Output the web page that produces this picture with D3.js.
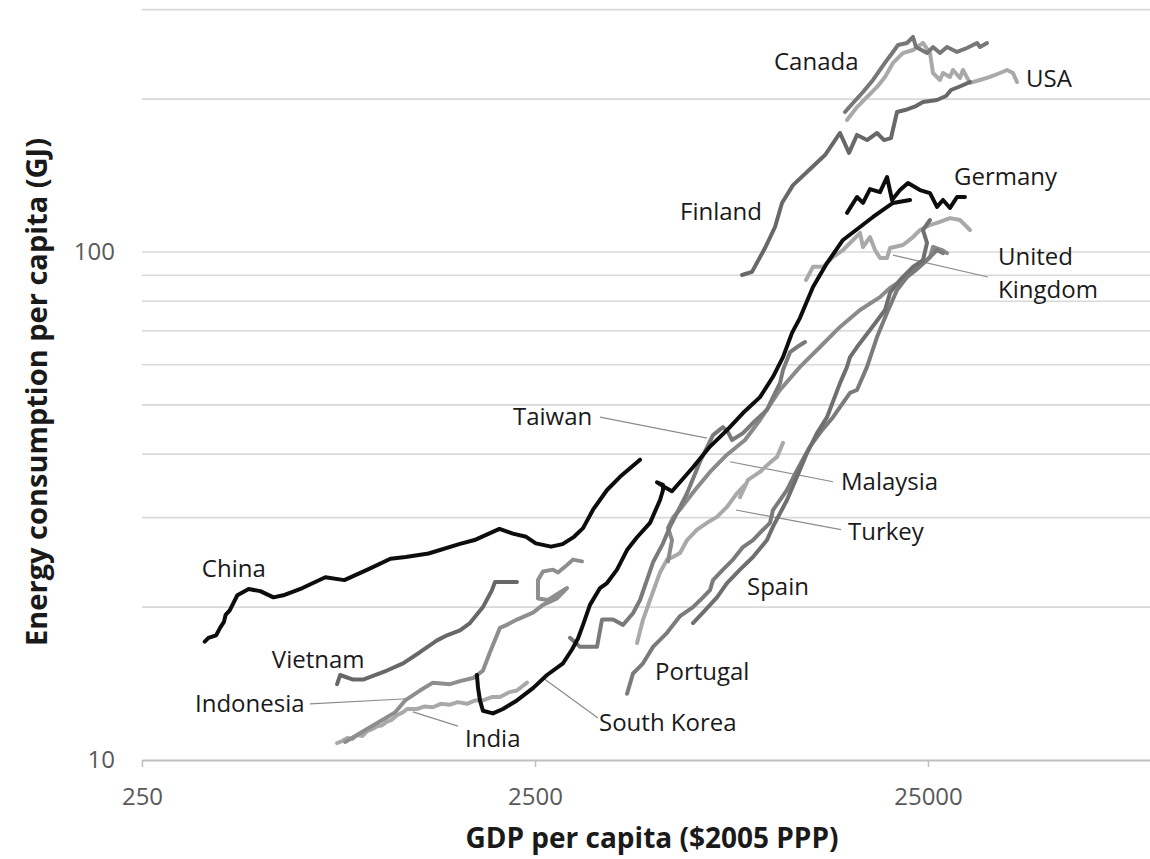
<!DOCTYPE html>
<html><head><meta charset="utf-8">
<script src="https://cdn.jsdelivr.net/npm/d3@7"></script>
<style>
body{margin:0;background:#fff;}
svg{display:block;}
</style></head><body>
<svg id="chart" width="1150" height="859"></svg>
<script>
// ---------- data ----------
const xTickValues = [250, 2500, 25000];
const yTickValues = [10, 100];
const yGridValues = [20, 30, 40, 50, 60, 70, 80, 90, 100, 200, 300];

const china = [[361,17.1],[369,17.4],[386,17.6],[395,18.2],[404,18.7],[408,19.3],[418,19.7],[437,21.1],[467,21.7],[500,21.5],[540,20.9],[572,21.1],[640,21.8],[732,22.9],[818,22.6],[937,23.7],[1072,24.9],[1172,25.1],[1340,25.5],[1603,26.6],[1754,27.1],[2030,28.5],[2195,27.9],[2374,27.5],[2512,26.7],[2747,26.3],[2938,26.6],[3142,27.5],[3313,28.6],[3512,31.1],[3813,34.0],[4114,36.1],[4626,39.0]];
const vietnam = [[784,14.1],[798,14.7],[861,14.4],[913,14.4],[1050,15.0],[1154,15.5],[1274,16.3],[1408,17.2],[1493,17.6],[1611,18.0],[1708,18.6],[1843,20.0],[1943,21.6],[1977,22.4],[2249,22.4]];
const india = [[784,10.8],[808,10.9],[832,11.05],[858,11.0],[882,11.2],[910,11.15],[935,11.4],[962,11.5],[991,11.65],[1020,11.7],[1050,11.9],[1080,12.0],[1114,12.25],[1150,12.4],[1182,12.6],[1252,12.6],[1310,12.75],[1375,12.7],[1440,12.9],[1519,12.85],[1590,13.0],[1679,12.9],[1760,13.1],[1843,13.1],[1940,13.3],[2036,13.3],[2150,13.6],[2249,13.7],[2385,14.2]];
const indonesia = [[822,10.85],[951,11.6],[1101,12.4],[1168,13.1],[1274,13.7],[1375,14.2],[1519,14.1],[1611,14.3],[1738,14.5],[1843,15.0],[1920,16.3],[2036,18.2],[2121,18.45],[2249,18.9],[2471,19.5],[2620,20.2],[2844,20.8],[3016,21.8],[2697,20.65],[2544,20.8],[2544,22.6],[2620,23.5],[2777,23.7],[2860,23.4],[3016,24.2],[3123,24.8],[3292,24.6]];
const southKorea = [[1779,14.7],[1790,13.9],[1811,13.1],[1843,12.5],[1954,12.35],[2072,12.6],[2249,13.1],[2471,13.85],[2682,14.7],[2945,15.5],[3105,16.5],[3216,17.35],[3312,18.45],[3450,20.2],[3659,21.8],[3813,22.3],[4042,23.7],[4286,25.9],[4545,27.45],[4905,29.3],[5201,32.5],[5293,34.0],[5293,34.8],[5110,35.2],[5293,34.6],[5579,33.8],[6310,37.7],[6970,41.4],[7700,44.6],[8456,48.2],[9342,51.8],[10081,56.8],[10690,62.1],[11270,69.3],[11810,74.2],[12744,85.3],[13835,95.1],[15194,105.6],[16785,112.0],[18113,117.2],[20364,124.9],[22497,126.6]];
const taiwan = [[3069,17.4],[3254,16.7],[3595,16.7],[3702,18.9],[3948,18.9],[4187,18.45],[4439,19.45],[4626,20.65],[4992,24.5],[5293,26.7],[5514,28.8],[6094,33.5],[6573,38.65],[7093,43.6],[7521,45.2],[7746,44.2],[7930,42.65],[8456,44.0],[8967,46.1],[9734,48.9],[10081,51.8],[10504,55.2],[10690,58.6],[11139,63.5],[11605,65.0],[12162,66.5]];
const malaysia = [[5450,24.6],[5579,27.1],[5450,28.65],[5612,30.0],[5917,31.5],[6385,34.0],[6970,36.9],[7700,39.9],[8557,42.65],[9342,46.7],[10504,53.5],[11810,59.4],[13279,65.0],[14930,71.2],[16785,76.9],[18872,81.5],[20010,85.0],[22109,89.3],[24275,95.1],[25294,97.7],[25742,102.3],[27137,100.9],[27946,99.5]];
const turkey = [[4545,17.0],[4708,18.9],[4905,20.65],[5201,23.4],[5418,24.8],[5612,25.1],[5848,25.55],[6094,27.1],[6460,28.4],[6849,29.3],[7261,30.1],[7700,31.5],[8165,33.5],[8557,34.8],[8309,32.9],[8708,35.6],[9342,36.9],[9906,38.5],[10322,39.5],[10690,42.1]];
const spain = [[6310,18.6],[6769,19.7],[7261,20.9],[7700,22.3],[8309,23.7],[8967,25.1],[9734,27.1],[10081,28.8],[10945,32.5],[11605,36.1],[12304,40.2],[13048,44.0],[13835,47.3],[14930,55.2],[15555,59.4],[15830,62.1],[16493,65.0],[17798,70.2],[19434,76.9],[20010,83.1],[21218,88.1],[22895,93.5],[24275,96.4],[24854,104.2],[24275,110.5],[25294,115.6]];
const portugal = [[4287,13.5],[4439,14.8],[4708,15.5],[4992,16.7],[5418,17.8],[5848,19.2],[6310,20.0],[6689,20.9],[6970,21.6],[7093,22.6],[7521,23.7],[7976,24.8],[8456,26.25],[8967,27.1],[9508,28.4],[9906,29.3],[10081,31.05],[10945,34.0],[11605,37.2],[12522,41.4],[13436,44.6],[14329,47.3],[15830,52.8],[16493,53.5],[17489,59.4],[18544,68.0],[19665,75.9],[20849,84.2],[22109,89.3],[23305,92.2],[24854,96.4],[26354,100.9],[27295,99.5]];
const unitedKingdom = [[12234,88.1],[12744,93.5],[13514,93.5],[14329,97.7],[15194,100.9],[16110,105.6],[16785,109.0],[17082,102.3],[17798,107.0],[18328,100.9],[18872,97.3],[19665,97.3],[20010,101.8],[21594,103.2],[22895,107.0],[23853,110.5],[25294,113.0],[26820,114.6],[28440,116.6],[30150,115.6],[31417,112.0],[31970,110.5]];
const germany = [[15555,119.4],[16493,128.3],[17082,124.9],[17798,133.0],[18872,131.2],[19665,140.5],[20246,126.6],[21218,132.4],[22235,136.7],[23853,132.4],[25294,130.6],[26354,122.7],[27295,126.6],[28440,122.1],[29634,128.3],[31049,128.3]];
const finland = [[8407,90.1],[8915,91.4],[9620,101.8],[10201,112.0],[10628,124.9],[11336,135.4],[12304,143.7],[13675,155.2],[14930,171.5],[15737,156.7],[16493,170],[17489,166.1],[18544,171.5],[19319,166.1],[20128,167.6],[20849,188.6],[21851,190.3],[23305,193.8],[24275,197.4],[26354,199.2],[27783,202.8],[28606,208.4],[30328,212.2],[31970,216.1]];
const canada = [[15372,188.6],[16110,196.5],[17082,206.5],[18113,218.1],[18872,228.2],[19665,238.8],[20364,247.6],[20976,255.5],[22109,257.9],[22895,265.0],[23305,253.2],[24854,246.4],[25742,253.2],[26820,246.4],[27946,253.2],[29634,247.6],[31417,252.1],[33313,257.9],[33900,253.2],[35324,257.9]];
const usa = [[15555,181.9],[16493,192.9],[17489,201.9],[18544,211.3],[19434,221.1],[20364,235.6],[21594,246.4],[22895,249.8],[24275,257.9],[25294,246.4],[25742,225.1],[26820,218.1],[27295,225.1],[28440,221.1],[28943,228.2],[30150,220.1],[30683,228.2],[31970,215.2],[33900,218.1],[35950,221.1],[38120,225.1],[39721,228.2],[41135,225.1],[42118,216.1]];

// label texts and anchor points (data space: gdp, energy)
const labelTexts = ["Canada","USA","Germany","Finland","United","Kingdom","Taiwan","Malaysia","Turkey","Spain","Portugal","South Korea","China","Vietnam","Indonesia","India"];
const labelAnchors = [[10140,228.2],[44400,211.3],[29114,135.5],[5848,115.6],[37676,94.2],[37676,81.1],[2197,45.65],[15018,34.0],[15645,27.1],[8658,21.1],[5051,14.4],[3638,11.4],[355,22.9],[535,15.2],[341,12.44],[1659,10.6]];
// leader lines: [from, to] in data space
const leaders = [
  [[669,12.9],[1182,13.2]],
  [[1592,11.66],[1223,12.44]],
  [[2620,14.5],[3616,12.1]],
  [[3659,47.3],[6849,43.0]],
  [[14329,35.3],[7837,38.65]],
  [[15018,28.4],[8117,31.05]],
  [[20364,98.6],[35520,89.3]]
];

// ---------- styles ----------
const series = [
  {name:"India", data:india, color:"#a9a9a9"},
  {name:"Turkey", data:turkey, color:"#a9a9a9"},
  {name:"USA", data:usa, color:"#a9a9a9"},
  {name:"United Kingdom", data:unitedKingdom, color:"#a9a9a9"},
  {name:"Indonesia", data:indonesia, color:"#8e8e8e"},
  {name:"Malaysia", data:malaysia, color:"#8a8a8a"},
  {name:"Portugal", data:portugal, color:"#7b7b7b"},
  {name:"Spain", data:spain, color:"#6f6f6f"},
  {name:"Taiwan", data:taiwan, color:"#7a7a7a"},
  {name:"Canada", data:canada, color:"#777777"},
  {name:"Finland", data:finland, color:"#686868"},
  {name:"Vietnam", data:vietnam, color:"#686868"},
  {name:"China", data:china, color:"#0d0d0d"},
  {name:"South Korea", data:southKorea, color:"#0d0d0d"},
  {name:"Germany", data:germany, color:"#0d0d0d"}
];

const svg = d3.select("#chart");
const x = d3.scaleLog().domain([250, 250000]).range([142, 142 + 393*3]);
const y = d3.scaleLog().domain([10, 300]).range([760, 760 - 508*Math.log10(30)]);

// gridlines
svg.append("g").selectAll("line").data(yGridValues).join("line")
  .attr("x1", x(250)).attr("x2", 1150)
  .attr("y1", d => y(d)).attr("y2", d => y(d))
  .attr("stroke", "#d9d9d9").attr("stroke-width", 1.6);

// x axis
const xAxis = svg.append("g").attr("transform", `translate(0,${y(10)})`)
  .call(d3.axisBottom(x).tickValues(xTickValues).tickFormat(d3.format("d")).tickSize(7).tickSizeOuter(0).tickPadding(21));
xAxis.select(".domain").attr("stroke", "#bfbfbf").attr("stroke-width", 2);
xAxis.selectAll(".tick line").attr("stroke", "#bfbfbf").attr("stroke-width", 1.5);
xAxis.selectAll("text").attr("font-family", "'Open Sans', sans-serif").attr("font-size", 24).attr("fill", "#595959");

// y axis labels
const yAxis = svg.append("g").attr("transform", "translate(115,0)")
  .call(d3.axisLeft(y).tickValues(yTickValues).tickFormat(d3.format("d")).tickSize(0).tickPadding(0));
yAxis.select(".domain").remove();
yAxis.selectAll("text").attr("font-family", "'Open Sans', sans-serif").attr("font-size", 24).attr("fill", "#595959");

// leader lines
svg.append("g").selectAll("line").data(leaders).join("line")
  .attr("x1", d => x(d[0][0])).attr("y1", d => y(d[0][1]))
  .attr("x2", d => x(d[1][0])).attr("y2", d => y(d[1][1]))
  .attr("stroke", "#8c8c8c").attr("stroke-width", 1.2);

// series lines
const line = d3.line().x(d => x(d[0])).y(d => y(d[1]));
svg.append("g").selectAll("path").data(series).join("path")
  .attr("d", d => line(d.data))
  .attr("fill", "none")
  .attr("stroke", d => d.color)
  .attr("stroke-width", 4)
  .attr("stroke-linejoin", "round")
  .attr("stroke-linecap", "round");

// labels
svg.append("g").selectAll("text").data(labelTexts).join("text")
  .attr("x", (d, i) => x(labelAnchors[i][0]))
  .attr("y", (d, i) => y(labelAnchors[i][1]))
  .attr("font-family", "'Open Sans', sans-serif")
  .attr("font-size", 24)
  .attr("fill", "#1a1a1a")
  .text(d => d);

// axis titles
svg.append("text")
  .attr("x", 652).attr("y", 848)
  .attr("text-anchor", "middle")
  .attr("font-family", "'Open Sans', sans-serif")
  .attr("font-weight", "bold").attr("font-size", 28)
  .attr("fill", "#1a1a1a")
  .text("GDP per capita ($2005 PPP)");
svg.append("text")
  .attr("transform", "translate(47,392) rotate(-90)")
  .attr("text-anchor", "middle")
  .attr("font-family", "'Open Sans', sans-serif")
  .attr("font-weight", "bold").attr("font-size", 29)
  .attr("fill", "#1a1a1a")
  .text("Energy consumption per capita (GJ)");
</script>
</body></html>
